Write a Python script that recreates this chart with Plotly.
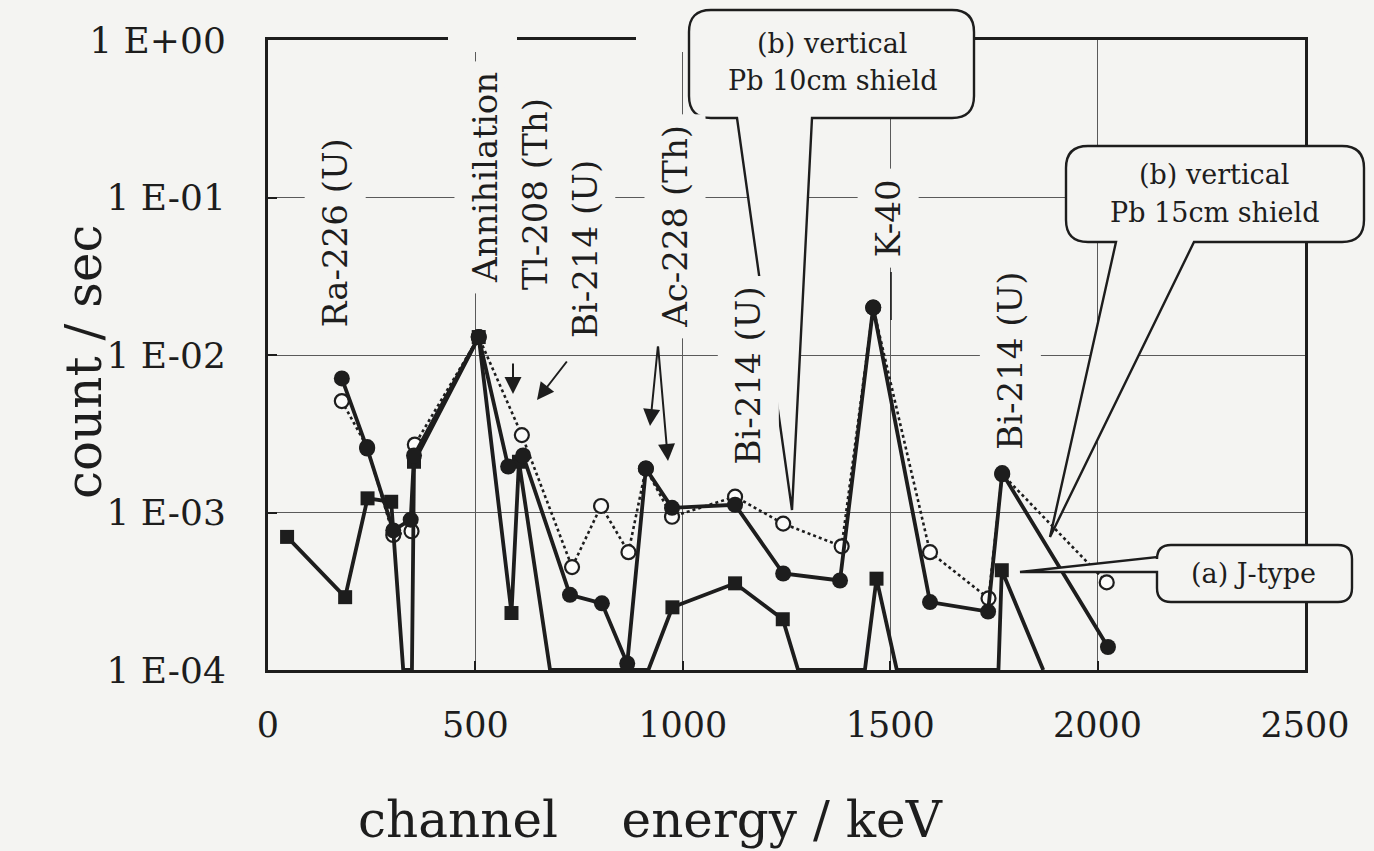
import math
import plotly.graph_objects as go

# ---- measured count rates (count / sec) versus energy (keV) ----
# zero entries mean no counts: the line is taken down to the bottom of the axis there

# (a) J-type detector, filled squares
j_energy = [46, 186, 240, 297, 326, 347, 352, 508, 587, 605, 680, 917, 975, 1126, 1241, 1278, 1439, 1467, 1516, 1761, 1769, 1869]
j_rate = [7.0e-4, 2.9e-4, 1.23e-3, 1.17e-3, 0, 0, 2.1e-3, 1.3e-2, 2.3e-4, 2.1e-3, 0, 0,
          2.5e-4, 3.55e-4, 2.1e-4, 0, 0, 3.8e-4, 0, 0, 4.3e-4, 0]

# (b) vertical, Pb 15 cm shield, filled circles
pb15_energy = [178, 239, 302, 344, 352, 508, 579, 615, 728, 805, 866, 911, 974, 1126, 1242, 1379, 1459, 1596, 1736, 1770, 2025]
pb15_rate = [7.1e-3, 2.55e-3, 7.7e-4, 9.0e-4, 2.3e-3, 1.3e-2, 1.96e-3, 2.3e-3, 3.0e-4, 2.65e-4, 1.1e-4,
             1.9e-3, 1.07e-3, 1.12e-3, 4.1e-4, 3.7e-4, 2.0e-2, 2.7e-4, 2.35e-4, 1.78e-3, 1.4e-4]

# (b) vertical, Pb 10 cm shield, open circles
pb10_energy = [178, 239, 302, 346, 354, 508, 612, 733, 803, 869, 911, 974, 1126, 1242, 1383, 1459, 1596, 1737, 1770, 2022]
pb10_rate = [5.1e-3, 2.6e-3, 7.2e-4, 7.6e-4, 2.7e-3, 1.3e-2, 3.1e-3, 4.5e-4, 1.1e-3, 5.6e-4, 1.9e-3,
             9.4e-4, 1.26e-3, 8.5e-4, 6.1e-4, 2.0e-2, 5.6e-4, 2.85e-4, 1.75e-3, 3.6e-4]

# axis ticks
x_ticks = [0, 500, 1000, 1500, 2000, 2500]
y_ticks = [1e-4, 1e-3, 1e-2, 1e-1, 1e0]
y_tick_text = ["1 E-04", "1 E-03", "1 E-02", "1 E-01", "1 E+00"]

# nuclide labels: text and the (energy, rate) point at the label centre
peak_labels = ["Ra-226 (U)", "Annihilation", "Tl-208 (Th)", "Bi-214 (U)", "Ac-228 (Th)",
               "Bi-214 (U)", "K-40", "Bi-214 (U)"]
peak_label_x = [162, 523, 643, 764, 981, 1157, 1495, 1789]
peak_label_y = [0.0595, 0.135, 0.105, 0.047, 0.066, 0.0074, 0.0741, 0.0092]

BG = "#f4f4f2"
INK = "#1d1d1d"
GRID = "#5a5a5a"
FONT = "DejaVu Serif"
FLOOR = 1e-4

W, H = 1374, 851
ML, MR, MT, MB = 268, 69, 40, 181
PW, PH = W - ML - MR, H - MT - MB


def to_line(vals):
    return [v if v > 0 else FLOOR for v in vals]


def only_measured(xs, vals):
    pts = [(x, v) for x, v in zip(xs, vals) if v > 0]
    return [p[0] for p in pts], [p[1] for p in pts]


def px(x):
    return (x - ML) / PW


def py(y):
    return (H - MB - y) / PH


fig = go.Figure()

# Pb 10 cm: dotted line with open circles (drawn first, under the solid series)
fig.add_trace(go.Scatter(x=pb10_energy, y=to_line(pb10_rate), mode="lines",
                         line=dict(color=INK, width=2.6, dash="dot"), hoverinfo="skip"))
mx, my = only_measured(pb10_energy, pb10_rate)
fig.add_trace(go.Scatter(x=mx, y=my, mode="markers",
                         marker=dict(symbol="circle", size=14, color="#fbfbfa", line=dict(color=INK, width=2.2))))

# J-type: solid line with filled squares
fig.add_trace(go.Scatter(x=j_energy, y=to_line(j_rate), mode="lines",
                         line=dict(color=INK, width=3.8), hoverinfo="skip"))
mx, my = only_measured(j_energy, j_rate)
fig.add_trace(go.Scatter(x=mx, y=my, mode="markers",
                         marker=dict(symbol="square", size=14, color=INK)))

# Pb 15 cm: solid line with filled circles
fig.add_trace(go.Scatter(x=pb15_energy, y=to_line(pb15_rate), mode="lines",
                         line=dict(color=INK, width=3.8), hoverinfo="skip"))
mx, my = only_measured(pb15_energy, pb15_rate)
fig.add_trace(go.Scatter(x=mx, y=my, mode="markers",
                         marker=dict(symbol="circle", size=16, color=INK)))

annotations = []
for text, lx, ly in zip(peak_labels, peak_label_x, peak_label_y):
    annotations.append(dict(x=lx, y=math.log10(ly), xref="x", yref="y", text=text, showarrow=False,
                            textangle=-90, font=dict(family=FONT, size=34, color=INK),
                            bgcolor=BG, borderpad=10, xanchor="center", yanchor="middle"))


def arrow(tail, tip):
    return dict(x=px(tip[0]), y=py(tip[1]), xref="paper", yref="paper", text="",
                showarrow=True, ax=tail[0] - tip[0], ay=tail[1] - tip[1],
                axref="pixel", ayref="pixel", arrowhead=2, arrowsize=1.7,
                arrowwidth=2, arrowcolor=INK, standoff=0)


annotations += [
    arrow((513, 362), (513, 394)),
    arrow((568, 360), (537, 400)),
    arrow((658, 345), (650, 426)),
    arrow((658, 345), (668, 461)),
]

# callout texts
callout_font = dict(family=FONT, size=27, color=INK)
for text, cx, cy in [("(b) vertical", 832, 44), ("Pb 10cm shield", 832, 80),
                     ("(b) vertical", 1214, 174), ("Pb 15cm shield", 1214, 212),
                     ("(a) J-type", 1253, 573)]:
    annotations.append(dict(x=px(cx), y=py(cy), xref="paper", yref="paper", text=text,
                            showarrow=False, font=callout_font, xanchor="center", yanchor="middle"))

# axis titles
annotations.append(dict(x=px(650), y=py(820), xref="paper", yref="paper",
                        text="channel\u00a0\u00a0\u00a0\u00a0energy / keV", showarrow=False,
                        font=dict(family=FONT, size=50, color=INK), xanchor="center", yanchor="middle"))
annotations.append(dict(x=px(84), y=py(362), xref="paper", yref="paper", text="count / sec",
                        showarrow=False, textangle=-90, font=dict(family=FONT, size=50, color=INK),
                        xanchor="center", yanchor="middle"))


def P(x, y):
    return f"{px(x):.5f},{py(y):.5f}"


def bubble(x0, y0, x1, y1, r, tail):
    d = f"M {P(x0 + r, y0)} L {P(x1 - r, y0)} Q {P(x1, y0)} {P(x1, y0 + r)} "
    d += f"L {P(x1, y1 - r)} Q {P(x1, y1)} {P(x1 - r, y1)} "
    if tail[0] == "bottom":
        _, xa, xb, (ax, ay) = tail
        d += f"L {P(xb, y1)} L {P(ax, ay)} L {P(xa, y1)} "
    d += f"L {P(x0 + r, y1)} Q {P(x0, y1)} {P(x0, y1 - r)} "
    if tail[0] == "left":
        _, ya, yb, (ax, ay) = tail
        d += f"L {P(x0, yb)} L {P(ax, ay)} L {P(x0, ya)} "
    d += f"L {P(x0, y0 + r)} Q {P(x0, y0)} {P(x0 + r, y0)} Z"
    return dict(type="path", path=d, xref="paper", yref="paper", layer="above",
                fillcolor=BG, line=dict(color=INK, width=2.4))


shapes = [
    # gaps in the frame behind the tall labels
    dict(type="rect", xref="paper", yref="paper", x0=px(448), x1=px(517), y0=py(52), y1=py(28),
         fillcolor=BG, line=dict(width=0), layer="above"),
    dict(type="rect", xref="paper", yref="paper", x0=px(636), x1=px(690), y0=py(52), y1=py(28),
         fillcolor=BG, line=dict(width=0), layer="above"),
    # K-40 leader
    dict(type="line", xref="paper", yref="paper", x0=px(891), x1=px(891), y0=py(272), y1=py(320),
         line=dict(color=INK, width=1.6), layer="above"),
    bubble(689, 10, 974, 118, 22, ("bottom", 737, 812, (792, 510))),
    bubble(1066, 146, 1364, 242, 22, ("bottom", 1116, 1194, (1050, 537))),
    bubble(1157, 545, 1352, 602, 14, ("left", 557, 572, (1020, 572))),
]

fig.update_layout(
    width=W, height=H,
    margin=dict(l=ML, r=MR, t=MT, b=MB, pad=0),
    paper_bgcolor=BG, plot_bgcolor=BG,
    showlegend=False,
    font=dict(family=FONT, color=INK),
    annotations=annotations,
    shapes=shapes,
    xaxis=dict(range=[0, 2500], tickvals=x_ticks, ticktext=[str(t) for t in x_ticks],
               showgrid=True, gridcolor=GRID, gridwidth=1.4, zeroline=False,
               showline=True, linecolor=INK, linewidth=3, mirror=True,
               ticks="inside", ticklen=9, tickwidth=2, tickcolor=INK,
               tickfont=dict(family=FONT, size=35, color=INK), ticklabelstandoff=22),
    yaxis=dict(type="log", range=[-4, 0], tickvals=y_ticks, ticktext=y_tick_text,
               showgrid=True, gridcolor=GRID, gridwidth=1.4, zeroline=False,
               showline=True, linecolor=INK, linewidth=3, mirror=True,
               ticks="inside", ticklen=9, tickwidth=2, tickcolor=INK,
               tickfont=dict(family=FONT, size=36, color=INK), ticklabelstandoff=32),
)

fig.write_html("out.html")
